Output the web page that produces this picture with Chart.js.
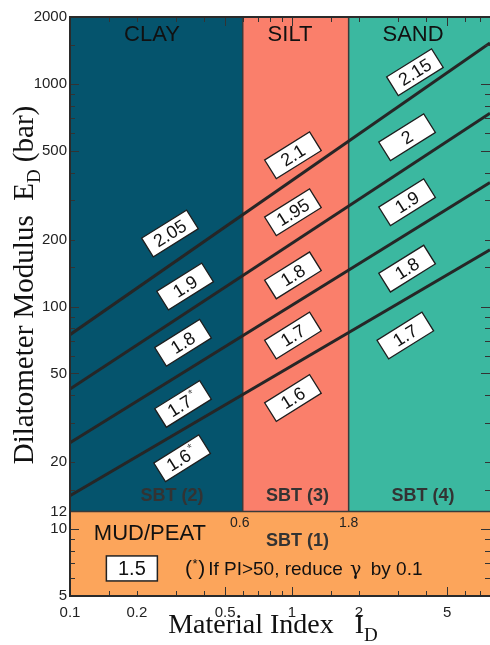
<!DOCTYPE html>
<html><head><meta charset="utf-8">
<script src="https://cdn.jsdelivr.net/npm/chart.js@4"></script>
<style>html,body{margin:0;padding:0;background:#fff;}canvas{display:block;}</style>
</head><body>
<canvas id="c" width="490" height="645"></canvas>
<script>
// ---------------- data ----------------
const xRange = [0.1, 7.8];                 // Material Index I_D
const yRange = [5, 2000];                  // Dilatometer Modulus E_D (bar)
const zoneBounds = [0.1, 0.6, 1.8, 7.8];   // CLAY | SILT | SAND
const zoneNames = ['CLAY', 'SILT', 'SAND'];
const zoneSBT = ['SBT (2)', 'SBT (3)', 'SBT (4)'];
const mudLimit = 12;                       // MUD/PEAT below E_D = 12
const xTickValues = [0.1, 0.2, 0.5, 1, 2, 5];
const xTickLabels = ['0.1', '0.2', '0.5', '1', '2', '5'];
const yTickValues = [5, 10, 12, 20, 50, 100, 200, 500, 1000, 2000];
const yTickLabels = ['5', '10', '12', '20', '50', '100', '200', '500', '1000', '2000'];

// gamma boundary lines (straight in log-log), value at I_D = 0.1 and 7.8
const lineX = [0.1, 7.8];
const lineA = [74.7, 1528];
const lineB = [42.6, 739];
const lineC = [24.4, 361];
const lineD = [14.1, 180];

// gamma (t/m3) labels
const gammaText = ['2.05', '1.9', '1.8', '1.7*', '1.6*',
                   '2.1', '1.95', '1.8', '1.7', '1.6',
                   '2.15', '2', '1.9', '1.8', '1.7'];
const gammaX = [0.282, 0.330, 0.323, 0.323, 0.320,
                1.01, 1.01, 1.01, 1.01, 1.01,
                3.58, 3.30, 3.30, 3.30, 3.24];
const gammaY = [213, 123, 68.7, 36.5, 20.8,
                478, 265, 138, 74, 38.8,
                1130, 576, 294, 148, 74];
const mudGamma = '1.5';

// annotation anchor positions (data coordinates)
const zoneNameX = [0.234, 0.98, 3.51];
const zoneNameY = 1660;
const sbtX = [0.288, 1.06, 3.89];
const sbtY = 14;
const sbt1 = 'SBT (1)';
const sbt1X = 1.06, sbt1Y = 8.8;
const mudName = 'MUD/PEAT';
const mudNameX = 0.229, mudNameY = 9.5;
const mudGammaX = 0.190, mudGammaY = 6.65;
const boundLabelY = 10.6;
const noteX = 0.330, noteY = 6.65;

// ---------------- styling ----------------
const zoneColors = ['#05546d', '#fa7f6b', '#3bb8a0'];
const mudColor = '#fca55b';
const ink = '#2a2a2a';

const datasets = [lineA, lineB, lineC, lineD].map((ys, i) => ({
  label: 'line' + i,
  data: lineX.map((x, k) => ({x: x, y: ys[k]})),
  showLine: true,
  borderColor: '#262626',
  borderWidth: 3,
  pointRadius: 0,
  fill: false,
  tension: 0
}));

function minorTicks(lo, hi, majorMult, minorMult) {
  const maj = [], min = [];
  for (let e = -2; e <= 4; e++) {
    const d = Math.pow(10, e);
    majorMult.forEach(m => { const v = +(m * d).toPrecision(6); if (v >= lo && v <= hi) maj.push(v); });
    minorMult.forEach(m => { const v = +(m * d).toPrecision(6); if (v >= lo && v <= hi) min.push(v); });
  }
  return {maj, min};
}

const bgPlugin = {
  id: 'zones',
  beforeDatasetsDraw(chart) {
    const {ctx, scales: {x, y}, chartArea: a} = chart;
    ctx.save();
    const yTop = y.getPixelForValue(yRange[1]);
    const yMud = y.getPixelForValue(mudLimit);
    const yBot = y.getPixelForValue(yRange[0]);
    for (let i = 0; i < 3; i++) {
      const x0 = x.getPixelForValue(zoneBounds[i]);
      const x1 = x.getPixelForValue(zoneBounds[i + 1]);
      ctx.fillStyle = zoneColors[i];
      ctx.fillRect(x0, yTop, x1 - x0, yMud - yTop);
    }
    ctx.fillStyle = mudColor;
    ctx.fillRect(a.left, yMud, a.right - a.left, yBot - yMud);
    ctx.strokeStyle = '#3a3a3a';
    ctx.lineWidth = 1.5;
    ctx.beginPath();
    [zoneBounds[1], zoneBounds[2]].forEach(b => {
      const px = x.getPixelForValue(b);
      ctx.moveTo(px, yTop); ctx.lineTo(px, yMud);
    });
    ctx.moveTo(a.left, yMud); ctx.lineTo(a.right, yMud);
    ctx.stroke();
    ctx.restore();
  },
  afterDatasetsDraw(chart) {
    const {ctx, scales: {x, y}, chartArea: a} = chart;
    const px = v => x.getPixelForValue(v);
    const py = v => y.getPixelForValue(v);
    ctx.save();
    // zone names
    ctx.textAlign = 'center';
    ctx.textBaseline = 'middle';
    ctx.fillStyle = '#111';
    ctx.font = '22px "Liberation Sans", Arial, sans-serif';
    zoneNames.forEach((n, i) => ctx.fillText(n, px(zoneNameX[i]), py(zoneNameY)));
    ctx.fillStyle = '#333';
    ctx.font = 'bold 18px "Liberation Sans", Arial, sans-serif';
    zoneSBT.forEach((n, i) => ctx.fillText(n, px(sbtX[i]), py(sbtY)));
    ctx.fillText(sbt1, px(sbt1X), py(sbt1Y));
    ctx.fillStyle = '#111';
    ctx.font = '22px "Liberation Sans", Arial, sans-serif';
    ctx.fillText(mudName, px(mudNameX), py(mudNameY));
    ctx.font = '14px "Liberation Sans", Arial, sans-serif';
    ctx.fillStyle = '#222';
    ctx.fillText(String(zoneBounds[1]), px(zoneBounds[1]) - 3, py(boundLabelY));
    ctx.fillText(String(zoneBounds[2]), px(zoneBounds[2]), py(boundLabelY));

    // 1.5 box
    {
      const cx = px(mudGammaX), cy = py(mudGammaY);
      ctx.fillStyle = '#fff';
      ctx.fillRect(cx - 25.5, cy - 12.5, 51, 25);
      ctx.strokeStyle = '#222'; ctx.lineWidth = 1.5;
      ctx.strokeRect(cx - 25.5, cy - 12.5, 51, 25);
      ctx.fillStyle = '#111';
      ctx.font = '20px "Liberation Sans", Arial, sans-serif';
      ctx.fillText(mudGamma, cx, cy + 1);
    }
    // footnote
    {
      let cx = px(noteX), cy = py(noteY) + 7;
      ctx.textAlign = 'left';
      ctx.textBaseline = 'alphabetic';
      ctx.fillStyle = '#111';
      ctx.font = '21px "Liberation Sans", Arial, sans-serif';
      ctx.fillText('(', cx, cy); cx += ctx.measureText('(').width;
      ctx.font = '13px "Liberation Sans", Arial, sans-serif';
      ctx.fillText('*', cx + 0.5, cy - 7); cx += ctx.measureText('*').width + 1;
      ctx.font = '21px "Liberation Sans", Arial, sans-serif';
      ctx.fillText(')', cx, cy); cx += ctx.measureText(')').width + 3;
      ctx.font = '19px "Liberation Sans", Arial, sans-serif';
      const t1 = 'If PI>50, reduce ';
      ctx.fillText(t1, cx, cy); cx += ctx.measureText(t1).width + 2;
      ctx.font = '19px "DejaVu Serif", serif';
      ctx.fillText('\u03b3', cx, cy); cx += ctx.measureText('\u03b3').width + 4;
      ctx.font = '19px "Liberation Sans", Arial, sans-serif';
      ctx.fillText(' by 0.1', cx, cy);
    }

    // gamma tags
    const ang = 32 * Math.PI / 180;
    gammaText.forEach((t, i) => {
      const cx = px(gammaX[i]), cy = py(gammaY[i]);
      const star = t.endsWith('*');
      const txt = star ? t.slice(0, -1) : t;
      ctx.save();
      ctx.translate(cx, cy);
      ctx.rotate(-ang);
      ctx.fillStyle = '#fff';
      ctx.fillRect(-26.5, -11, 53, 22);
      ctx.strokeStyle = '#1e1e1e'; ctx.lineWidth = 1.3;
      ctx.strokeRect(-26.5, -11, 53, 22);
      ctx.fillStyle = '#111';
      ctx.font = '18px "Liberation Sans", Arial, sans-serif';
      ctx.textAlign = 'center'; ctx.textBaseline = 'middle';
      if (star) {
        ctx.fillText(txt, -4, 1);
        const w = ctx.measureText(txt).width;
        ctx.font = '12px "Liberation Sans", Arial, sans-serif';
        ctx.fillStyle = '#555';
        ctx.fillText('*', -4 + w / 2 + 4, -4);
      } else {
        ctx.fillText(txt, 0, 1);
      }
      ctx.restore();
    });

    // tick marks (inward, all four sides)
    ctx.strokeStyle = '#333'; ctx.lineWidth = 1;
    const xt = minorTicks(xRange[0], xRange[1], [1, 5], [1.5, 2, 3, 4, 6, 7, 8, 9]);
    const yt = minorTicks(yRange[0], yRange[1], [1, 5], [1.5, 2, 3, 4, 6, 7, 8, 9]);
    ctx.beginPath();
    xt.maj.concat(xt.min).forEach(v => {
      const L = xt.maj.includes(v) ? 9 : 5;
      const p = Math.round(px(v)) + 0.5;
      ctx.moveTo(p, a.bottom); ctx.lineTo(p, a.bottom - L);
      ctx.moveTo(p, a.top); ctx.lineTo(p, a.top + L);
    });
    yt.maj.concat(yt.min).forEach(v => {
      const L = yt.maj.includes(v) ? 9 : 5;
      const p = Math.round(py(v)) + 0.5;
      ctx.moveTo(a.left, p); ctx.lineTo(a.left + L, p);
      ctx.moveTo(a.right, p); ctx.lineTo(a.right - L, p);
    });
    ctx.stroke();

    // frame
    ctx.strokeStyle = ink; ctx.lineWidth = 2;
    ctx.beginPath();
    ctx.moveTo(a.right, a.top); ctx.lineTo(a.left, a.top);
    ctx.lineTo(a.left, a.bottom); ctx.lineTo(a.right, a.bottom);
    ctx.stroke();

    // axis titles
    ctx.fillStyle = '#111';
    ctx.textAlign = 'left'; ctx.textBaseline = 'alphabetic';
    const serif = '"Liberation Serif", "Times New Roman", serif';
    // x title
    {
      const parts = [['Material Index   I', '28px ' + serif, 0], ['D', '19px ' + serif, 8]];
      let tot = 0;
      parts.forEach(p => { ctx.font = p[1]; tot += ctx.measureText(p[0]).width; });
      let cx = 273 - tot / 2;
      const base = 633;
      parts.forEach(p => { ctx.font = p[1]; ctx.fillText(p[0], cx, base + p[2]); cx += ctx.measureText(p[0]).width; });
    }
    // y title
    {
      const parts = [['Dilatometer Modulus  E', '29px ' + serif, 0], ['D', '19px ' + serif, 7], [' (bar)', '29px ' + serif, 0]];
      let tot = 0;
      parts.forEach(p => { ctx.font = p[1]; tot += ctx.measureText(p[0]).width; });
      ctx.save();
      ctx.translate(33, 285);
      ctx.rotate(-Math.PI / 2);
      let cx = -tot / 2;
      parts.forEach(p => { ctx.font = p[1]; ctx.fillText(p[0], cx, p[2]); cx += ctx.measureText(p[0]).width; });
      ctx.restore();
    }
    ctx.restore();
  }
};

new Chart(document.getElementById('c'), {
  type: 'scatter',
  data: {datasets},
  options: {
    responsive: false,
    animation: false,
    layout: {padding: {top: 17, right: 0, left: 0, bottom: 0}},
    plugins: {legend: {display: false}, tooltip: {enabled: false}},
    scales: {
      x: {
        type: 'logarithmic', position: 'bottom',
        min: xRange[0], max: xRange[1],
        afterBuildTicks: s => { s.ticks = xTickValues.map(v => ({value: v})); },
        afterFit: s => { s.height = 49; s.paddingLeft = 0; s.paddingRight = 0; },
        grid: {display: false, drawTicks: false},
        border: {display: false},
        ticks: {
          autoSkip: false, maxRotation: 0, padding: 8, color: '#222',
          font: {family: '"Liberation Sans", Arial, sans-serif', size: 15},
          callback: v => { const i = xTickValues.indexOf(+v); return i < 0 ? '' : xTickLabels[i]; }
        }
      },
      y: {
        type: 'logarithmic', position: 'left',
        min: yRange[0], max: yRange[1],
        afterBuildTicks: s => { s.ticks = yTickValues.map(v => ({value: v})); },
        afterFit: s => { s.width = 70; s.paddingTop = 0; s.paddingBottom = 0; },
        grid: {display: false, drawTicks: false},
        border: {display: false},
        ticks: {
          autoSkip: false, padding: 3, color: '#222',
          font: {family: '"Liberation Sans", Arial, sans-serif', size: 15},
          callback: v => { const i = yTickValues.indexOf(+v); return i < 0 ? '' : yTickLabels[i]; }
        }
      }
    }
  },
  plugins: [bgPlugin]
});
</script>
</body></html>
